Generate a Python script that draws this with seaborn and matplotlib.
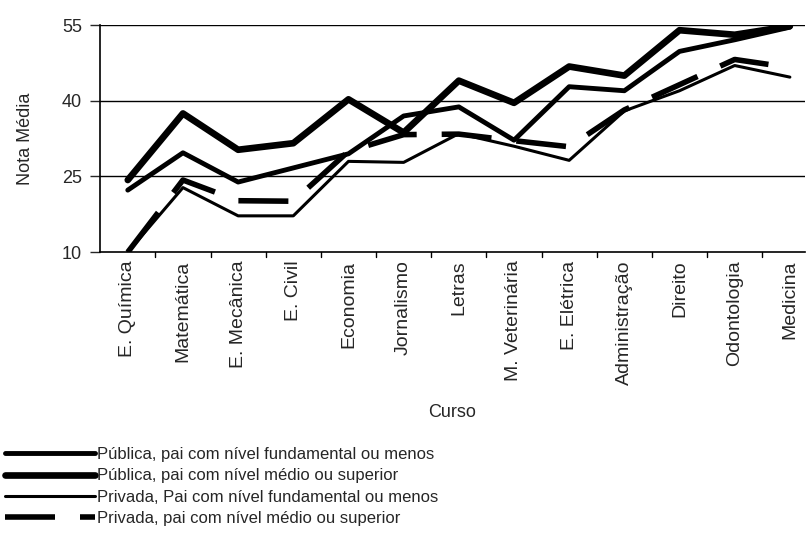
import pandas as pd
import seaborn as sns
import matplotlib.pyplot as plt

cursos = ['E. Química', 'Matemática', 'E. Mecânica', 'E. Civil', 'Economia', 'Jornalismo',
          'Letras', 'M. Veterinária', 'E. Elétrica', 'Administração', 'Direito',
          'Odontologia', 'Medicina']

pub_fund = [22.3, 29.7, 23.9, 26.7, 29.5, 37.0, 38.8, 32.2, 42.8, 42.0, 49.8, 52.1, 54.6]
pub_medio = [24.3, 37.5, 30.3, 31.6, 40.3, 33.7, 44.0, 39.6, 46.8, 45.0, 54.0, 53.1, 54.8]
priv_fund = [10.0, 22.8, 17.2, 17.2, 28.0, 27.8, 33.5, 31.0, 28.2, 38.0, 42.0, 47.0, 44.7]
priv_medio = [10.0, 24.3, 20.2, 20.1, 30.0, 33.3, 33.4, 32.1, 30.9, 38.2, 43.2, 48.2, 46.6]

nomes = ['Pública, pai com nível fundamental ou menos',
         'Pública, pai com nível médio ou superior',
         'Privada, Pai com nível fundamental ou menos',
         'Privada, pai com nível médio ou superior']

sns.set_style('white')
plt.rcParams['font.family'] = ['Liberation Sans', 'DejaVu Sans']

fig = plt.figure(figsize=(8.08, 5.47), dpi=100)
ax = fig.add_axes([0.124, 0.539, 0.872, 0.415])

# horizontal grid lines
for v in [25, 40, 55]:
    ax.axhline(v, color='black', lw=1.0, zorder=0)

estilos = [
    dict(lw=3.5, ls='-'),
    dict(lw=4.8, ls='-'),
    dict(lw=2.2, ls='-'),
    dict(lw=4.0, ls=(0, (9, 4.5))),
]

for nome, vals, st in zip(nomes, [pub_fund, pub_medio, priv_fund, priv_medio], estilos):
    df = pd.DataFrame({'Curso': cursos, 'Nota': vals})
    sns.lineplot(data=df, x='Curso', y='Nota', ax=ax, color='black', label=nome,
                 linewidth=st['lw'], linestyle=st['ls'], sort=False)

ax.set_ylim(10, 55)
ax.set_yticks([10, 25, 40, 55])
ax.set_xlim(-0.5, 12.27)
ax.set_xticks(range(len(cursos)))
ax.set_xticklabels(cursos, rotation=90, fontsize=14)
ax.tick_params(axis='x', length=0, pad=6)
ax.tick_params(axis='y', labelsize=13, length=7, width=1, direction='out', left=True, pad=6)
for b in [i + 0.5 for i in range(12)]:
    ax.plot([b, b], [10, 9.0], color='black', lw=1, clip_on=False)

ax.set_xlabel('Curso', fontsize=13, labelpad=14)
ax.set_ylabel('Nota Média', fontsize=13, labelpad=20)

for s in ['top', 'right']:
    ax.spines[s].set_visible(False)
for s in ['left', 'bottom']:
    ax.spines[s].set_color('black')
    ax.spines[s].set_linewidth(1.2)

h, l = ax.get_legend_handles_labels()
ax.get_legend().remove()
fig.legend(h, l, loc='upper left', bbox_to_anchor=(-0.002, 0.195), frameon=False,
           fontsize=12, handlelength=5.4, handletextpad=0.1, labelspacing=0.38,
           borderaxespad=0)

fig.savefig('out.png', dpi=100)
